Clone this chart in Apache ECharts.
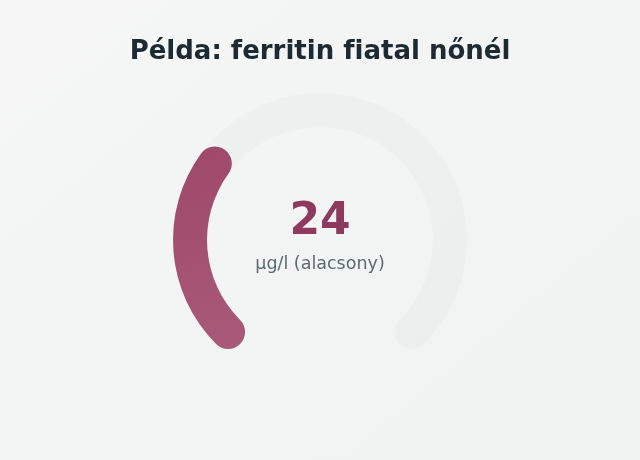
<!DOCTYPE html>
<html>
<head>
<meta charset="utf-8">
<script src="https://cdn.jsdelivr.net/npm/echarts@6/dist/echarts.min.js"></script>
<style>
html,body{margin:0;padding:0;width:640px;height:460px;overflow:hidden;}
#c{width:640px;height:460px;font-variant-ligatures:none;}
</style>
</head>
<body>
<div id="c"></div>
<script>
const chartTitle = 'Példa: ferritin fiatal nőnél';
const gaugeNames = ['µg/l (alacsony)'];
const gaugeValues = [24];
const scaleMin = 0;
const scaleMax = 80;

// keep "f" and "i" as separate glyphs (no ligature), as in the reference
const noLig = s => s.replace(/fi/g, 'f\u200Ci');

const chart = echarts.init(document.getElementById('c'), null, {renderer: 'canvas'});
const font = 'DejaVu Sans';
chart.setOption({
  backgroundColor: {
    type: 'linear', x: 0, y: 0, x2: 0.6, y2: 1,
    colorStops: [{offset: 0, color: '#f6f7f6'}, {offset: 1, color: '#eff3f2'}]
  },
  title: {
    text: noLig(chartTitle),
    left: 'center',
    top: 34,
    textStyle: {fontFamily: font, fontSize: 26, fontWeight: 'bold', color: '#1c2a33'}
  },
  series: [{
    type: 'gauge',
    center: [320, 240],
    radius: 147,
    startAngle: 225,
    endAngle: -45,
    min: scaleMin,
    max: scaleMax,
    pointer: {show: false},
    axisTick: {show: false},
    splitLine: {show: false},
    axisLabel: {show: false},
    anchor: {show: false},
    axisLine: {
      roundCap: true,
      lineStyle: {width: 34, color: [[1, 'rgba(205,218,218,0.14)']]}
    },
    progress: {
      show: true,
      roundCap: true,
      width: 34,
      itemStyle: {
        color: {
          type: 'linear', x: 0, y: 0, x2: 1, y2: 1,
          colorStops: [{offset: 0, color: '#9f4869'}, {offset: 1, color: '#a95a79'}]
        }
      }
    },
    title: {
      offsetCenter: [0, 24],
      fontFamily: font,
      fontSize: 17.5,
      color: '#5b6b70'
    },
    detail: {
      offsetCenter: [0, -17],
      valueAnimation: false,
      formatter: '{value}',
      fontFamily: font,
      fontSize: 44,
      fontWeight: 'bold',
      color: '#8e3a5e'
    },
    data: gaugeValues.map((v, i) => ({value: v, name: gaugeNames[i]}))
  }]
});
</script>
</body>
</html>
